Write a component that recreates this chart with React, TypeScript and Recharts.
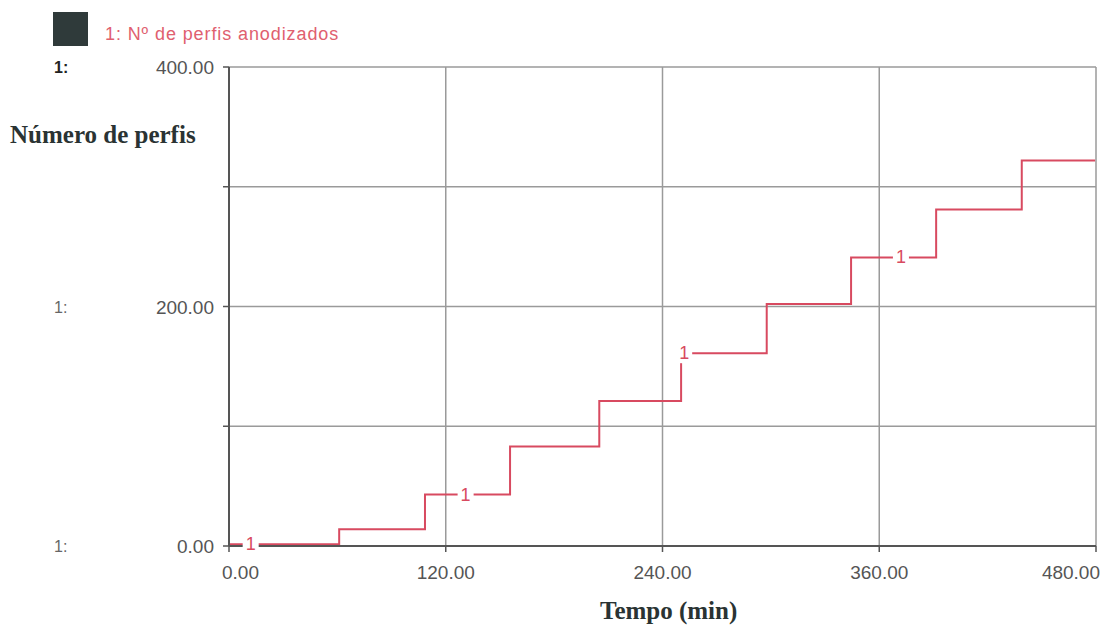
import React from 'react';
import { LineChart, Line, XAxis, YAxis, CartesianGrid } from 'recharts';

const STEP_TIMES = [0, 61, 108.5, 155.6, 205, 250.3, 297.7, 344.4, 391.5, 438.9, 479.5];
const STEP_LEVELS = [1.5, 14, 43, 83, 121, 161, 202, 241, 281, 322, 322];
const LABEL_TIMES = [12, 131, 252, 372];
const X_TICKS = [0, 120, 240, 360, 480];
const Y_TICKS = [0, 100, 200, 300, 400];
const Y_LABELED = [0, 200, 400];
const SERIES_NAME = '1: Nº de perfis anodizados';
const Y_TITLE = 'Número de perfis';
const X_TITLE = 'Tempo (min)';

const RED = '#d84a60';

function levelAt(t: number): number {
  let idx = 0;
  for (let i = 0; i < STEP_TIMES.length; i++) {
    if (STEP_TIMES[i] <= t) idx = i;
  }
  return STEP_LEVELS[idx];
}

const data = [
  ...STEP_TIMES.map((t, i) => ({ t, v: STEP_LEVELS[i], mark: false })),
  ...LABEL_TIMES.map((t) => ({ t, v: levelAt(t), mark: true })),
].sort((a, b) => a.t - b.t);

const MarkDot = (props: any) => {
  const { cx, cy, payload } = props;
  if (!payload || !payload.mark) return <g />;
  return (
    <g>
      <rect x={cx - 8} y={cy - 10} width={16} height={20} fill="#ffffff" />
      <text
        x={cx}
        y={cy + 6}
        textAnchor="middle"
        fontFamily="Liberation Sans, Arial, sans-serif"
        fontSize={18}
        fill={RED}
      >
        1
      </text>
    </g>
  );
};

const YTick = (props: any) => {
  const { y, payload } = props;
  if (!Y_LABELED.includes(payload.value)) return <g />;
  const top = payload.value === 400;
  return (
    <g>
      <text
        x={54}
        y={y + 6}
        fontFamily="Liberation Sans, Arial, sans-serif"
        fontSize={16}
        fontWeight={top ? 'bold' : 'normal'}
        fill={top ? '#222' : '#666'}
      >
        1:
      </text>
      <text
        x={214}
        y={y + 7}
        textAnchor="end"
        fontFamily="Liberation Sans, Arial, sans-serif"
        fontSize={19}
        fill="#555"
      >
        {payload.value.toFixed(2)}
      </text>
    </g>
  );
};

const XTick = (props: any) => {
  const { x, y, payload } = props;
  const v = payload.value;
  let anchor: 'start' | 'middle' | 'end' = 'middle';
  let dx = 0;
  if (v === 0) {
    anchor = 'start';
    dx = -7;
  } else if (v === 480) {
    anchor = 'end';
    dx = 6;
  }
  return (
    <text
      x={x + dx}
      y={y + 25}
      textAnchor={anchor}
      fontFamily="Liberation Sans, Arial, sans-serif"
      fontSize={19}
      fill="#555"
    >
      {v.toFixed(2)}
    </text>
  );
};

export default function App() {
  return (
    <div
      style={{
        position: 'absolute',
        left: 0,
        top: 0,
        width: 1106,
        height: 626,
        background: '#ffffff',
        overflow: 'hidden',
      }}
    >
      <div
        style={{
          position: 'absolute',
          left: 53,
          top: 12,
          width: 35,
          height: 34,
          background: '#2f3a3a',
        }}
      />
      <div
        style={{
          position: 'absolute',
          left: 105,
          top: 24,
          fontFamily: 'Liberation Sans, Arial, sans-serif',
          fontSize: 18,
          letterSpacing: 0.9,
          color: '#e0606f',
          whiteSpace: 'nowrap',
        }}
      >
        {SERIES_NAME}
      </div>
      <div
        style={{
          position: 'absolute',
          left: 10,
          top: 121,
          fontFamily: 'Liberation Serif, Times New Roman, serif',
          fontSize: 25,
          fontWeight: 'bold',
          color: '#2a3333',
          whiteSpace: 'nowrap',
        }}
      >
        {Y_TITLE}
      </div>
      <div
        style={{
          position: 'absolute',
          left: 600,
          top: 597,
          fontFamily: 'Liberation Serif, Times New Roman, serif',
          fontSize: 25,
          fontWeight: 'bold',
          color: '#2a3333',
          whiteSpace: 'nowrap',
        }}
      >
        {X_TITLE}
      </div>
      <div style={{ position: 'absolute', left: 0, top: 0 }}>
        <LineChart
          width={1106}
          height={626}
          data={data}
          margin={{ top: 67, right: 10, bottom: 40, left: 0 }}
        >
          <CartesianGrid stroke="#9a9a9a" strokeWidth={1.5} />
          <XAxis
            type="number"
            dataKey="t"
            domain={[0, 480]}
            ticks={X_TICKS}
            allowDataOverflow
            height={40}
            axisLine={{ stroke: '#555', strokeWidth: 2 }}
            tickLine={{ stroke: '#555', strokeWidth: 1.5 }}
            tickSize={6}
            tick={<XTick />}
          />
          <YAxis
            type="number"
            domain={[0, 400]}
            ticks={Y_TICKS}
            width={229}
            axisLine={{ stroke: '#555', strokeWidth: 2 }}
            tickLine={{ stroke: '#555', strokeWidth: 1.5 }}
            tickSize={6}
            tick={<YTick />}
          />
          <Line
            type="stepAfter"
            dataKey="v"
            stroke={RED}
            strokeWidth={2}
            dot={<MarkDot />}
            activeDot={false}
            isAnimationActive={false}
          />
        </LineChart>
      </div>
    </div>
  );
}
